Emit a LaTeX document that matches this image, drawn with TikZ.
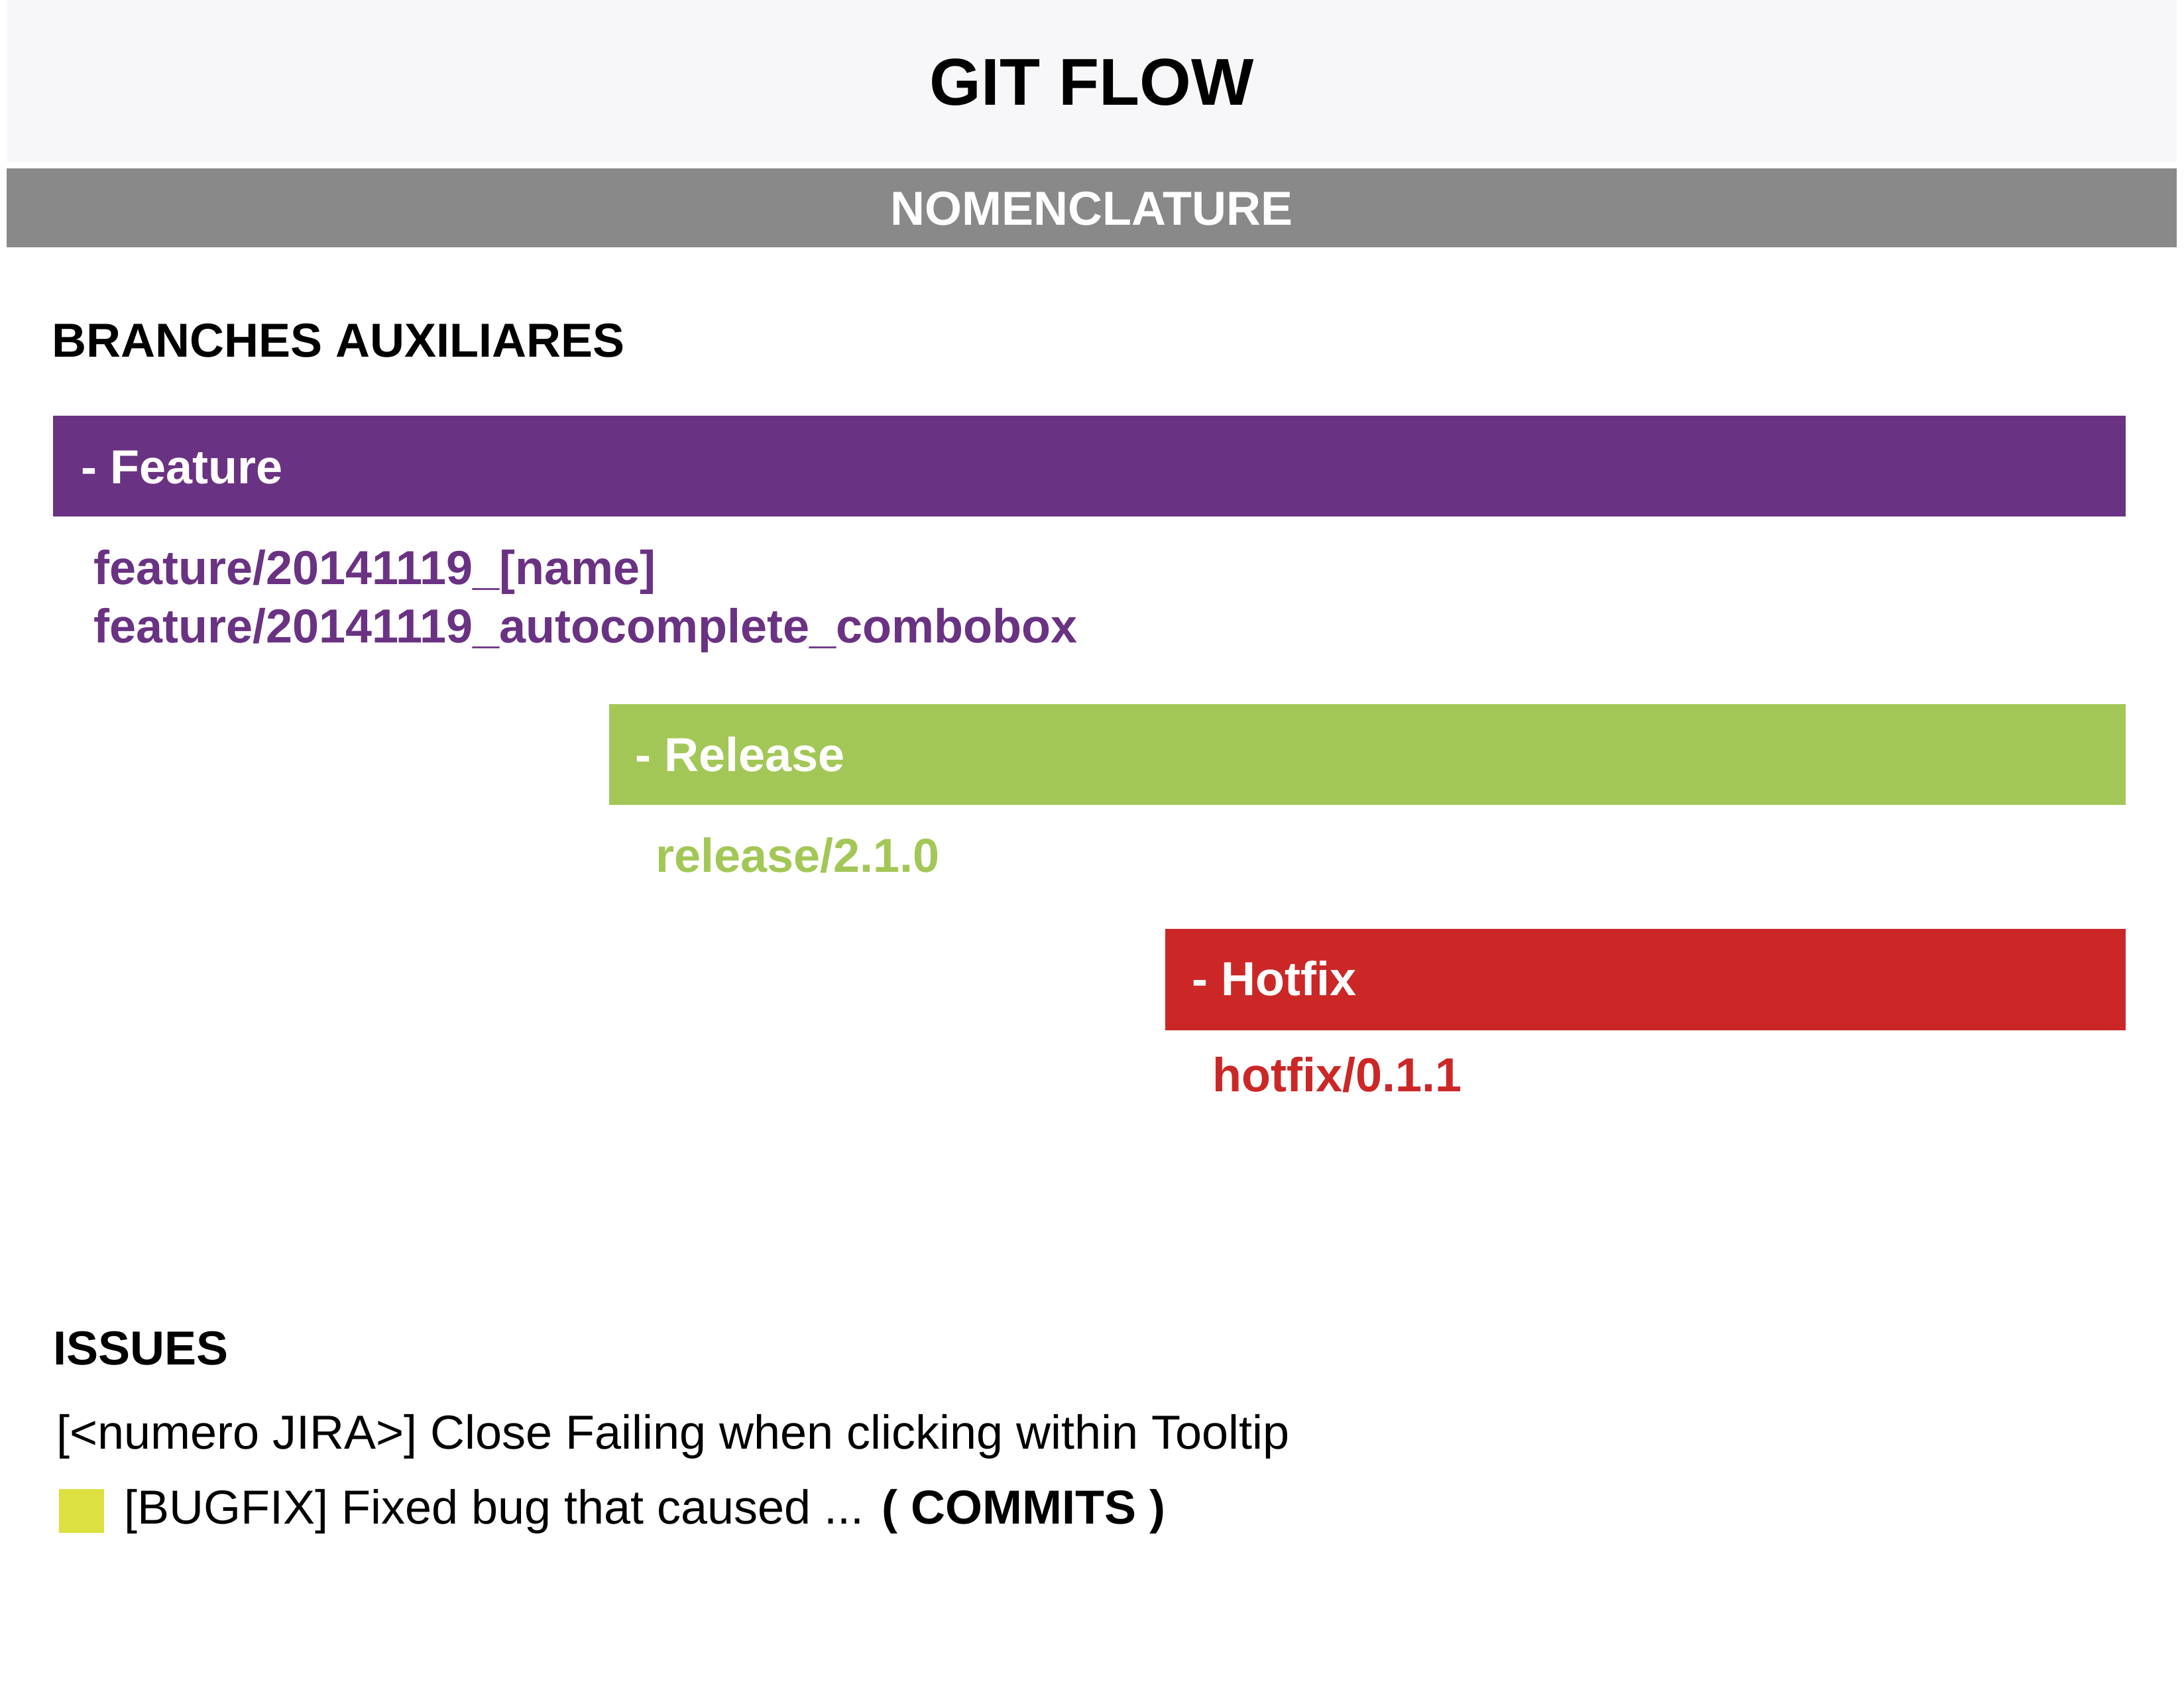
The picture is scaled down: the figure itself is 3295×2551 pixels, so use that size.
\documentclass[tikz,border=0pt]{standalone}
\usepackage{fontspec}
\setmainfont{Liberation Sans}
\definecolor{hdrbg}{HTML}{F7F7F9}
\definecolor{nomgray}{HTML}{898989}
\definecolor{featpurple}{HTML}{6A3282}
\definecolor{relgreen}{HTML}{A3C757}
\definecolor{hotred}{HTML}{CC2727}
\definecolor{commityellow}{HTML}{DCE040}
\tikzset{
  bar/.style={draw=none, inner sep=0pt, anchor=north west},
  txt/.style={inner sep=0pt, anchor=base west, font=\fontsize{72}{86}\selectfont},
  btxt/.style={txt, font=\fontsize{72}{86}\selectfont\bfseries},
}
\begin{document}
\begin{tikzpicture}[x=1pt,y=-1pt]
\useasboundingbox (0,0) rectangle (3295,2551);
% header
\node[bar, fill=hdrbg, minimum width=3274pt, minimum height=244pt] (hdr) at (10,0) {};
\node[inner sep=0pt, anchor=base, font=\fontsize{100}{120}\selectfont\bfseries] (title) at (1647,158) {GIT FLOW};
\node[bar, fill=nomgray, minimum width=3274pt, minimum height=119pt] (nombar) at (10,254) {};
\node[inner sep=0pt, anchor=base, text=white, font=\fontsize{72}{86}\selectfont\bfseries] (nom) at (1647,339) {NOMENCLATURE};
% branches
\node[btxt] (branches) at (78,538) {BRANCHES AUXILIARES};
\node[bar, fill=featpurple, minimum width=3127pt, minimum height=152pt] (featbar) at (80,627) {};
\node[btxt, text=white] (featlbl) at (122,729) {- Feature};
\node[btxt, text=featpurple] (feat1) at (141,881) {feature/20141119\_[name]};
\node[btxt, text=featpurple] (feat2) at (141,969) {feature/20141119\_autocomplete\_combobox};
\node[bar, fill=relgreen, minimum width=2288pt, minimum height=152pt] (relbar) at (919,1062) {};
\node[btxt, text=white] (rellbl) at (958,1163) {- Release};
\node[btxt, text=relgreen] (rel1) at (989,1315) {release/2.1.0};
\node[bar, fill=hotred, minimum width=1449pt, minimum height=153pt] (hotbar) at (1758,1401) {};
\node[btxt, text=white] (hotlbl) at (1798,1501) {- Hotfix};
\node[btxt, text=hotred] (hot1) at (1829,1646) {hotfix/0.1.1};
% issues
\node[btxt] (issues) at (80,2058) {ISSUES};
\node[txt] (jira) at (85,2185) {[<numero JIRA>] Close Failing when clicking within Tooltip};
\node[bar, fill=commityellow, minimum width=68pt, minimum height=66pt] (sq) at (89,2246) {};
\node[txt] (bugfix) at (187,2298) {[BUGFIX] Fixed bug that caused ... \textbf{( COMMITS )}};
\end{tikzpicture}
\end{document}
